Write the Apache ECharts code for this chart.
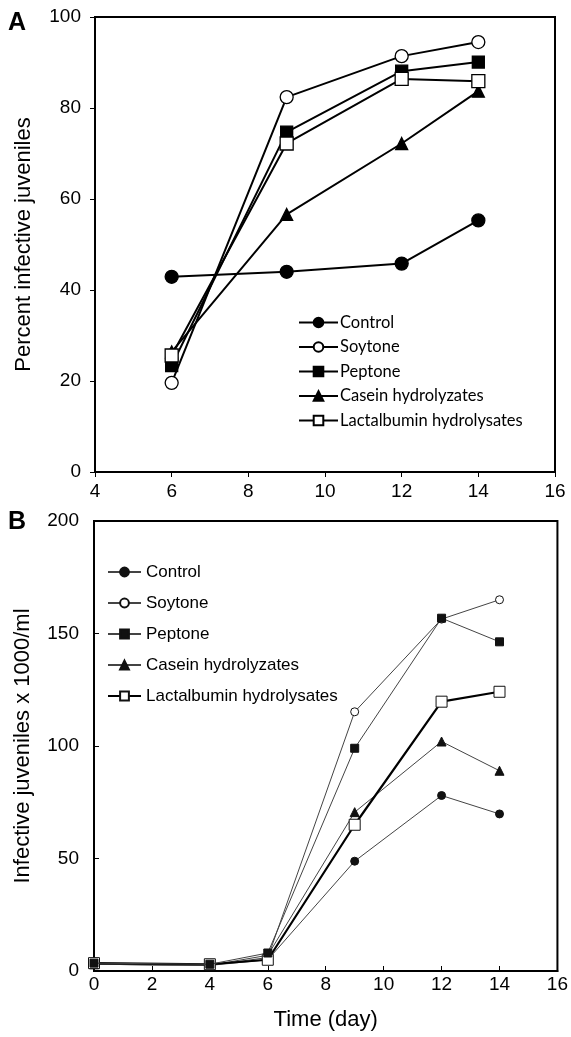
<!DOCTYPE html>
<html>
<head>
<meta charset="utf-8">
<script src="https://cdn.jsdelivr.net/npm/echarts@6/dist/echarts.min.js"></script>
<style>
html,body{margin:0;padding:0;background:#fff;}
#c{width:571px;height:1037px;}
</style>
</head>
<body>
<div id="c"></div>
<script>
// Panel A: percent infective juveniles
const daysA = [6, 9, 12, 14];
const aControl = [42.9, 44.0, 45.8, 55.3];
const aSoytone = [19.6, 82.4, 91.4, 94.5];
const aPeptone = [23.4, 74.7, 88.1, 90.1];
const aCasein = [26.4, 56.6, 72.2, 83.7];
const aLactalbumin = [25.6, 72.2, 86.4, 85.9];

// Panel B: infective juveniles x 1000/ml
const daysB = [0, 4, 6, 9, 12, 14];
const bControl = [3, 2.5, 5, 48.8, 78, 69.8];
const bSoytone = [3, 2.5, 6, 115.2, 156.4, 165];
const bPeptone = [3.5, 3, 8, 99, 156.8, 146.3];
const bCasein = [3, 2.5, 7, 70.6, 102, 89];
const bLactalbumin = [3.5, 3, 5, 65, 119.7, 124.1];

const seriesNames = ['Control', 'Soytone', 'Peptone', 'Casein hydrolyzates', 'Lactalbumin hydrolysates'];
const ticksA_x = {min: 4, max: 16, interval: 2};
const ticksA_y = {min: 0, max: 100, interval: 20};
const ticksB_x = {min: 0, max: 16, interval: 2};
const ticksB_y = {min: 0, max: 200, interval: 50};

function pairs(xs, ys) { return xs.map((x, i) => [x, ys[i]]); }

const dataA = [aControl, aSoytone, aPeptone, aCasein, aLactalbumin];
const dataB = [bControl, bSoytone, bPeptone, bCasein, bLactalbumin];

const styleA = [
  {symbol: 'circle', size: 13, fill: '#000'},
  {symbol: 'circle', size: 13, fill: '#fff'},
  {symbol: 'rect', size: 12, fill: '#000'},
  {symbol: 'triangle', size: 12, fill: '#000'},
  {symbol: 'rect', size: 13, fill: '#fff'}
];
const styleB = [
  {symbol: 'circle', size: 8, fill: '#111', lw: 1, lc: '#444', z: 2},
  {symbol: 'circle', size: 8, fill: '#fff', lw: 1, lc: '#444', z: 3},
  {symbol: 'rect', size: 8, fill: '#111', lw: 1, lc: '#444', z: 7},
  {symbol: 'triangle', size: 9, fill: '#111', lw: 1, lc: '#444', z: 4},
  {symbol: 'rect', size: 11, fill: '#fff', lw: 2.2, lc: '#000', z: 6}
];

const series = [];
seriesNames.forEach((n, i) => {
  const s = styleA[i];
  series.push({
    name: n, type: 'line', xAxisIndex: 0, yAxisIndex: 0,
    data: pairs(daysA, dataA[i]),
    symbol: s.symbol, symbolSize: s.size,
    lineStyle: {color: '#000', width: 2},
    itemStyle: {color: s.fill, borderColor: '#000', borderWidth: 1.3},
    emphasis: {disabled: true}, animation: false, z: 2 + i
  });
});
seriesNames.forEach((n, i) => {
  const s = styleB[i];
  series.push({
    name: 'B:' + n, type: 'line', xAxisIndex: 1, yAxisIndex: 1,
    data: pairs(daysB, dataB[i]),
    symbol: s.symbol, symbolSize: s.size,
    lineStyle: {color: s.lc, width: s.lw},
    itemStyle: {color: s.fill, borderColor: '#111', borderWidth: 1},
    emphasis: {disabled: true}, animation: false, z: s.z
  });
});

const axisFont = {fontFamily: 'Liberation Sans', fontSize: 19, color: '#000'};

const chart = echarts.init(document.getElementById('c'), null, {renderer: 'canvas'});
chart.setOption({
  backgroundColor: '#fff',
  animation: false,
  grid: [
    {left: 95, top: 17, width: 460, height: 455, show: true, borderColor: '#000', borderWidth: 2, containLabel: false},
    {left: 94, top: 521, width: 465, height: 450, show: true, borderColor: '#000', borderWidth: 2, containLabel: false}
  ],
  xAxis: [
    {type: 'value', gridIndex: 0, min: ticksA_x.min, max: ticksA_x.max, interval: ticksA_x.interval,
     axisLine: {lineStyle: {color: '#000', width: 2}}, axisTick: {inside: false, length: 5, lineStyle: {color: '#000'}},
     axisLabel: Object.assign({margin: 10}, axisFont), splitLine: {show: false}},
    {type: 'value', gridIndex: 1, min: ticksB_x.min, max: ticksB_x.max, interval: ticksB_x.interval,
     name: 'Time (day)', nameLocation: 'middle', nameGap: 38,
     nameTextStyle: {fontFamily: 'Liberation Sans', fontSize: 22, color: '#000'},
     axisLine: {lineStyle: {color: '#000', width: 2}}, axisTick: {inside: true, length: 5, lineStyle: {color: '#000'}},
     axisLabel: Object.assign({margin: 4}, axisFont), splitLine: {show: false}}
  ],
  yAxis: [
    {type: 'value', gridIndex: 0, min: ticksA_y.min, max: ticksA_y.max, interval: ticksA_y.interval,
     name: 'Percent infective juveniles', nameLocation: 'middle', nameGap: 60,
     nameTextStyle: {fontFamily: 'Liberation Sans', fontSize: 22, color: '#000'},
     axisLine: {lineStyle: {color: '#000', width: 2}}, axisTick: {inside: false, length: 5, lineStyle: {color: '#000'}},
     axisLabel: Object.assign({margin: 14}, axisFont), splitLine: {show: false}},
    {type: 'value', gridIndex: 1, min: ticksB_y.min, max: ticksB_y.max, interval: ticksB_y.interval,
     name: 'Infective juveniles x 1000/ml', nameLocation: 'middle', nameGap: 60,
     nameTextStyle: {fontFamily: 'Liberation Sans', fontSize: 22, color: '#000'},
     axisLine: {lineStyle: {color: '#000', width: 2}}, axisTick: {inside: true, length: 5, lineStyle: {color: '#000'}},
     axisLabel: Object.assign({margin: 15}, axisFont), splitLine: {show: false}}
  ],
  legend: [
    {data: seriesNames, orient: 'vertical', left: 298, top: 314, padding: 0, itemWidth: 39, itemHeight: 12, itemGap: 7.5,
     textStyle: {fontFamily: 'Lato', fontSize: 16.5, color: '#000', padding: [0, 0, 0, -3]}, selectedMode: false},
    {data: seriesNames.map(n => 'B:' + n), orient: 'vertical', left: 107, top: 563.5, padding: 0, itemWidth: 33, itemHeight: 11, itemGap: 14,
     formatter: n => n.slice(2),
     textStyle: {fontFamily: 'Liberation Sans', fontSize: 17, color: '#000'}, selectedMode: false}
  ],
  graphic: [
    {type: 'text', left: 8, top: 11, style: {text: 'A', fontFamily: 'Liberation Sans', fontWeight: 'bold', fontSize: 25, fill: '#000'}},
    {type: 'text', left: 8, top: 510, style: {text: 'B', fontFamily: 'Liberation Sans', fontWeight: 'bold', fontSize: 25, fill: '#000'}}
  ],
  series: series
});
</script>
</body>
</html>
